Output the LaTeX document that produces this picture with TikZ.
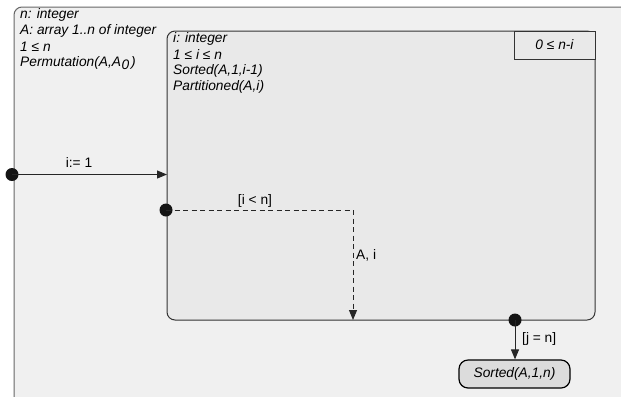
\documentclass[tikz,border=0pt]{standalone}
\usepackage{fontspec}
\setmainfont{Liberation Sans}
\usetikzlibrary{arrows.meta}
\definecolor{outerfill}{HTML}{F0F0F0}
\definecolor{innerfill}{HTML}{E9E9E9}
\definecolor{finalfill}{HTML}{DCDCDC}
\definecolor{edge}{HTML}{333333}
\newcommand{\fsz}{\fontsize{13.8}{16}\selectfont}
\begin{document}
\begin{tikzpicture}[x=1bp,y=-1bp,
  statebox/.style={draw=edge,line width=1bp,rounded corners=8bp},
  txt/.style={inner sep=0pt,anchor=west,font=\fsz\itshape},
  lbl/.style={inner sep=0pt,font=\fsz},
  dotnode/.style={circle,fill=black!92,inner sep=0pt,minimum size=13bp},
  conn/.style={draw=black!85,line width=1bp,-{Triangle[length=10bp,width=8bp]}},
  dconn/.style={conn,dash pattern=on 5bp off 3.5bp}]
\useasboundingbox (0,0) rectangle (621,396);
\begin{scope}
\clip (0,0) rectangle (621,396);
\fill[white] (0,0) rectangle (621,396);
% outer state
\path[statebox,draw=black!60,fill=outerfill] (14,7) rectangle (640,412);
% inner state
\path[statebox,fill=innerfill] (167,31) rectangle (595,320);
\end{scope}
\node[draw=edge,line width=1bp,fill=innerfill,minimum width=81bp,minimum height=28bp,inner sep=0pt,
      font=\fsz\itshape] (var) at (554.5,45) {0 ≤ n-i};
% outer texts
\node[txt] (t1) at (20,15) {n: integer};
\node[txt] (t2) at (20,31) {A: array 1..n of integer};
\node[txt] (t3) at (20,47) {1 ≤ n};
\node[txt] (t4) at (20,63) {Permutation(A,A\kern0.5bp\raisebox{-0.4ex}{0}\kern2bp)};
% inner texts
\node[txt] (u1) at (173,39) {i: integer};
\node[txt] (u2) at (173,55) {1 ≤ i ≤ n};
\node[txt] (u3) at (173,71) {Sorted(A,1,i-1)};
\node[txt] (u4) at (173,87) {Partitioned(A,i)};
% initial transition
\node[dotnode] (d0) at (12,174.5) {};
\coordinate (e0) at (167,174.5);
\draw[conn] (d0.center) -- (e0);
\node[lbl] (l0) at (79,163) {i:= 1};
% loop
\node[dotnode] (d1) at (166,210) {};
\coordinate (c1) at (353,210);
\coordinate (e1) at (353,320);
\draw[dconn] (d1.center) -- (c1) -- (e1);
\node[lbl] (l1) at (255,201) {[i < n]};
\node[lbl,anchor=west] (l2) at (356,255) {A, i};
% exit
\node[dotnode] (d2) at (515,320) {};
\node[draw=black,line width=1.2bp,fill=finalfill,rounded corners=9bp,minimum width=111bp,minimum height=28bp,inner sep=0pt,
      font=\fsz\itshape] (fin) at (514.5,374) {Sorted(A,1,n)};
\draw[conn] (d2.center) -- (fin.north -| d2);
\node[lbl,anchor=west] (l3) at (522,339) {[j = n]};
\end{tikzpicture}
\end{document}
